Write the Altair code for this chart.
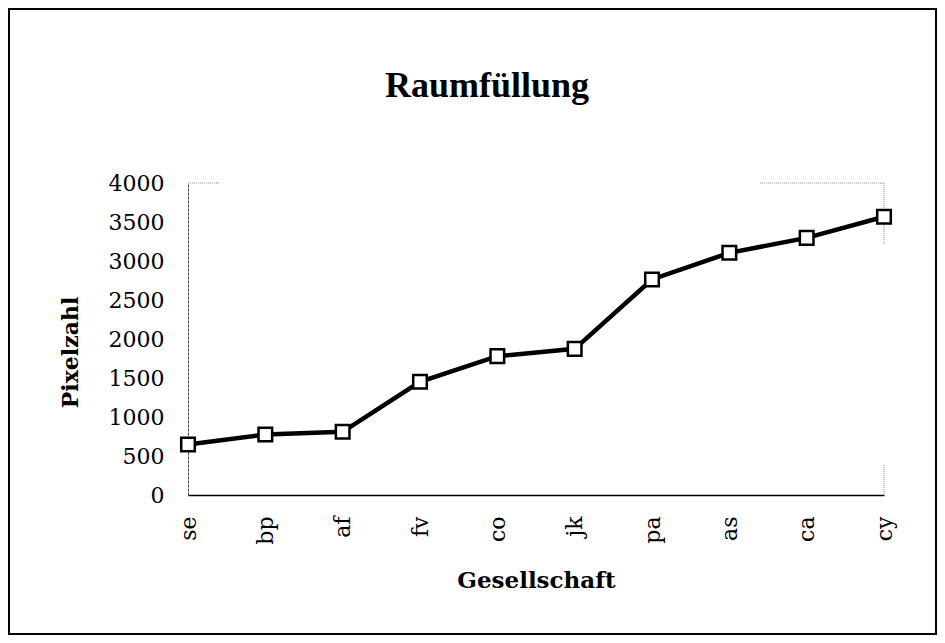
import altair as alt
import pandas as pd

gesellschaft = ["se", "bp", "af", "fv", "co", "jk", "pa", "as", "ca", "cy"]
pixelzahl = [647, 776, 810, 1451, 1780, 1874, 2763, 3105, 3297, 3567]
y_ticks = [0, 500, 1000, 1500, 2000, 2500, 3000, 3500, 4000]

df = pd.DataFrame({"Gesellschaft": gesellschaft, "Pixelzahl": pixelzahl})

W, H = 696, 312

x_enc = alt.X(
    "Gesellschaft:N",
    sort=gesellschaft,
    scale=alt.Scale(type="point", padding=0),
    axis=alt.Axis(
        title="Gesellschaft",
        labelAngle=-90,
        labelFont="DejaVu Serif",
        labelFontSize=22,
        labelColor="black",
        labelPadding=21,
        labelOverlap=False,
        ticks=False,
        domainColor="black",
        domainWidth=1.5,
        titleFont="DejaVu Serif",
        titleFontSize=23,
        titleFontWeight="bold",
        titleColor="black",
        titleX=W / 2,
        titleY=92,
        titleBaseline="alphabetic",
        titleAlign="center",
    ),
)
y_enc = alt.Y(
    "Pixelzahl:Q",
    scale=alt.Scale(domain=[0, 4000], nice=False, zero=True),
    axis=alt.Axis(
        title="Pixelzahl",
        values=y_ticks,
        format="d",
        labelOverlap=False,
        grid=False,
        ticks=False,
        labelFont="DejaVu Serif",
        labelFontSize=22,
        labelColor="black",
        labelPadding=24,
        domainColor="#444444",
        domainDash=[3, 1],
        domainWidth=1,
        titleFont="DejaVu Serif",
        titleFontSize=22,
        titleFontWeight="bold",
        titleColor="black",
        titleAngle=270,
        titleX=-118,
        titleY=169,
        titleAlign="center",
        titleBaseline="middle",
    ),
)

line = alt.Chart(df).mark_line(color="black", strokeWidth=4.5).encode(x=x_enc, y=y_enc)
points = alt.Chart(df).mark_point(
    shape="square", size=185, filled=True, fill="white", stroke="black", strokeWidth=2.5, opacity=1
).encode(x=x_enc, y=y_enc)

one = pd.DataFrame({"k": [0]})
title = alt.Chart(one).mark_text(
    text="Raumfüllung", font="Liberation Serif", fontSize=36, fontWeight="bold",
    baseline="alphabetic", align="center", color="black"
).encode(x=alt.value(299), y=alt.value(-86))

frame = alt.Chart(one).mark_rect(filled=False, stroke="black", strokeWidth=2).encode(
    x=alt.value(-179), x2=alt.value(748), y=alt.value(-174), y2=alt.value(451)
)

edge_style = dict(color="#888888", strokeWidth=1, strokeDash=[1, 1])
top_left = alt.Chart(one).mark_rule(**edge_style).encode(x=alt.value(0), x2=alt.value(32), y=alt.value(0))
top_right = alt.Chart(one).mark_rule(**edge_style).encode(x=alt.value(572), x2=alt.value(W), y=alt.value(0))
right_top = alt.Chart(one).mark_rule(**edge_style).encode(x=alt.value(W), y=alt.value(0), y2=alt.value(62))
right_bot = alt.Chart(one).mark_rule(**edge_style).encode(x=alt.value(W), y=alt.value(282), y2=alt.value(H))

chart = alt.layer(
    frame, top_left, top_right, right_top, right_bot, line, points, title
).properties(
    width=W,
    height=H,
    autosize=alt.AutoSizeParams(type="none"),
    padding={"left": 180, "top": 175, "right": 53, "bottom": 140},
    background="white",
).configure_view(stroke=None).configure_axis(labelOverlap=False)

chart.save("out.html", embed_options={"renderer": "svg", "actions": False})
